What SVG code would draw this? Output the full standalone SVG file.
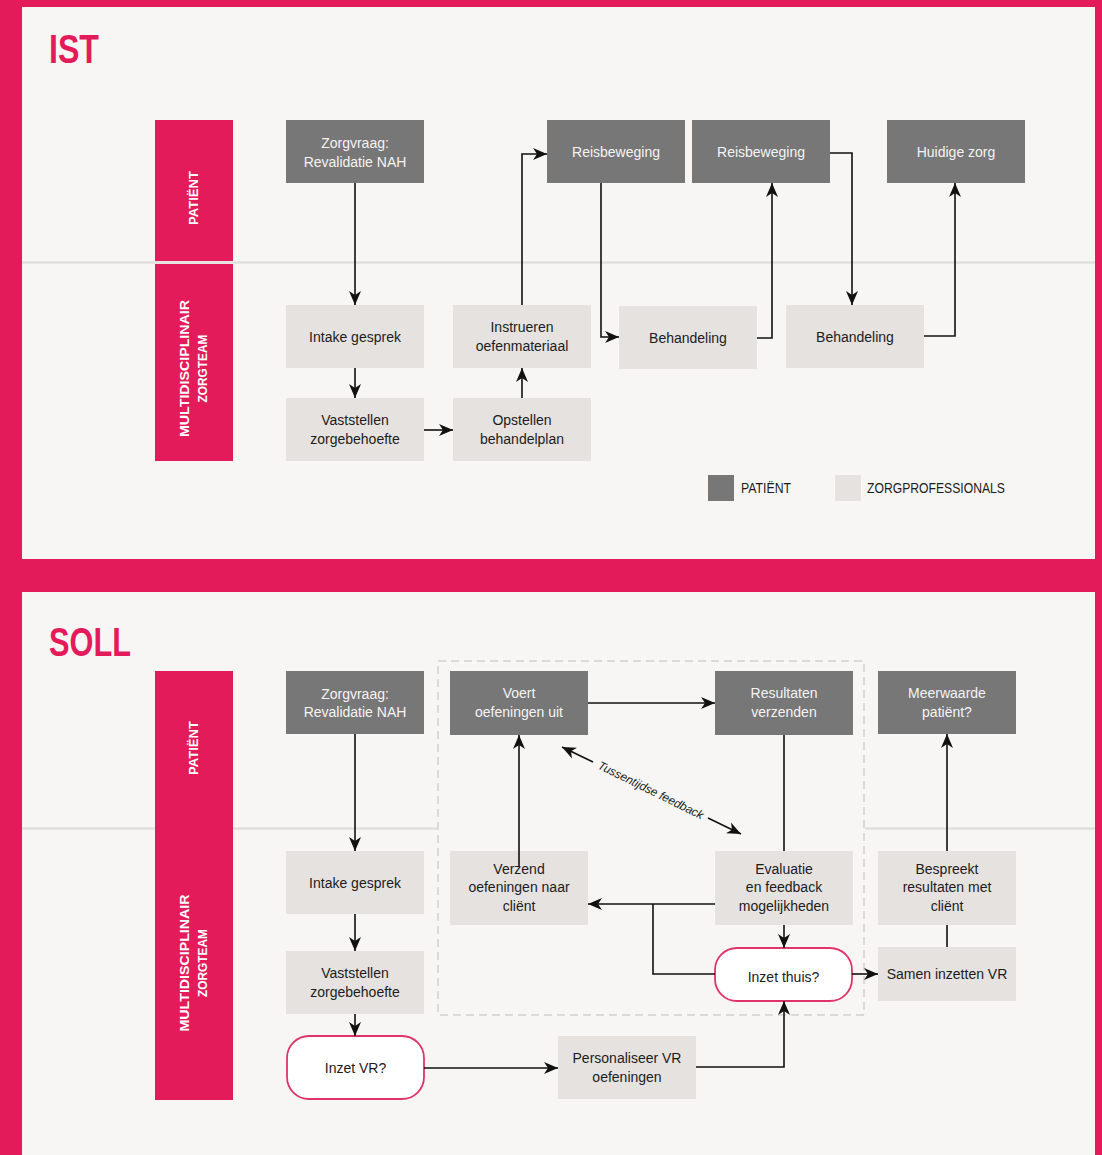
<svg xmlns="http://www.w3.org/2000/svg" width="1102" height="1155" viewBox="0 0 1102 1155">
<style>
.panel{fill:#f7f6f4}
.lane{fill:#e41b5a}
.sep{stroke:#e2e0dd;stroke-width:2.5;fill:none}
.dk{fill:#777777}
.lt{fill:#e5e2e0}
.dec{fill:#ffffff;stroke:#e0336b;stroke-width:1.8}
text{font-family:"Liberation Sans",Arial,sans-serif}
.tw{fill:#f4f4f4;font-size:14px;text-anchor:middle}
.tb{fill:#1c1c1c;font-size:14px;text-anchor:middle}
.lab{fill:#ffffff;font-size:13.5px;font-weight:bold;text-anchor:middle}
.ttl{fill:#e41b5a;font-size:41px;font-weight:bold}
.leg{fill:#1c1c1c;font-size:14px}
.c{stroke:#111;stroke-width:1.6;fill:none}
.ca{stroke:#111;stroke-width:1.6;fill:none;marker-end:url(#ah)}
</style>
<defs>
<marker id="ah" markerUnits="userSpaceOnUse" markerWidth="16" markerHeight="14" refX="14" refY="7" orient="auto-start-reverse">
<path d="M0,1 L14,7 L0,13 L4,7 Z" fill="#111"/>
</marker>
</defs>
<rect x="0" y="0" width="1102" height="1155" fill="#e41b5a"/>
<rect class="panel" x="22" y="7" width="1073" height="552"/>
<rect class="panel" x="22" y="592" width="1073" height="563"/>

<!-- IST panel -->
<g id="ist-title"><text class="ttl" x="49" y="63" textLength="50" lengthAdjust="spacingAndGlyphs">IST</text></g>
<line class="sep" x1="22" y1="262.5" x2="1095" y2="262.5"/>
<g id="ist-lane-patient"><rect class="lane" x="155" y="120" width="78" height="141"/>
<text class="lab" transform="translate(198,198) rotate(-90)" textLength="54" lengthAdjust="spacingAndGlyphs">PATIËNT</text></g>
<g id="ist-lane-team"><rect class="lane" x="155" y="264" width="78" height="197"/>
<text class="lab" transform="translate(189,368.5) rotate(-90)" textLength="137" lengthAdjust="spacingAndGlyphs">MULTIDISCIPLINAIR</text>
<text class="lab" transform="translate(207,368.5) rotate(-90)" textLength="68" lengthAdjust="spacingAndGlyphs">ZORGTEAM</text></g>

<g id="ist-zorgvraag"><rect class="dk" x="286" y="120" width="138" height="63"/><text class="tw" x="355" y="148">Zorgvraag:</text><text class="tw" x="355" y="167">Revalidatie NAH</text></g>
<g id="ist-intake"><rect class="lt" x="286" y="305" width="138" height="63"/><text class="tb" x="355" y="341.5">Intake gesprek</text></g>
<g id="ist-vaststellen"><rect class="lt" x="286" y="398" width="138" height="63"/><text class="tb" x="355" y="425">Vaststellen</text><text class="tb" x="355" y="444">zorgebehoefte</text></g>
<g id="ist-opstellen"><rect class="lt" x="453" y="398" width="138" height="63"/><text class="tb" x="522" y="425">Opstellen</text><text class="tb" x="522" y="444">behandelplan</text></g>
<g id="ist-instrueren"><rect class="lt" x="453" y="305" width="138" height="63"/><text class="tb" x="522" y="332">Instrueren</text><text class="tb" x="522" y="351">oefenmateriaal</text></g>
<g id="ist-reis1"><rect class="dk" x="547" y="120" width="138" height="63"/><text class="tw" x="616" y="157">Reisbeweging</text></g>
<g id="ist-behandeling1"><rect class="lt" x="619" y="306" width="138" height="63"/><text class="tb" x="688" y="343">Behandeling</text></g>
<g id="ist-reis2"><rect class="dk" x="692" y="120" width="138" height="63"/><text class="tw" x="761" y="157">Reisbeweging</text></g>
<g id="ist-behandeling2"><rect class="lt" x="786" y="305" width="138" height="63"/><text class="tb" x="855" y="342">Behandeling</text></g>
<g id="ist-huidige"><rect class="dk" x="887" y="120" width="138" height="63"/><text class="tw" x="956" y="157">Huidige zorg</text></g>

<g id="ist-legend">
<rect class="dk" x="708" y="475" width="26" height="26"/><text class="leg" x="741" y="493" textLength="50" lengthAdjust="spacingAndGlyphs">PATIËNT</text>
<rect class="lt" x="835" y="475" width="26" height="26"/><text class="leg" x="867" y="493" textLength="138" lengthAdjust="spacingAndGlyphs">ZORGPROFESSIONALS</text>
</g>

<g id="ist-connectors">
<path class="ca" d="M355,183 V305"/>
<path class="ca" d="M355,368 V398"/>
<path class="ca" d="M424,430 H453"/>
<path class="ca" d="M522,398 V368"/>
<path class="ca" d="M522,305 V154 H547"/>
<path class="ca" d="M601,183 V337 H619"/>
<path class="ca" d="M757,338 H772 V183"/>
<path class="ca" d="M830,153 H852 V305"/>
<path class="ca" d="M924,336 H955 V183"/>
</g>

<!-- SOLL panel -->
<g id="soll-title"><text class="ttl" x="49" y="656" textLength="82" lengthAdjust="spacingAndGlyphs">SOLL</text></g>
<line class="sep" x1="22" y1="828.5" x2="437" y2="828.5"/>
<line class="sep" x1="865" y1="828.5" x2="1095" y2="828.5"/>
<g id="soll-lanes"><rect class="lane" x="155" y="671" width="78" height="429"/>
<text class="lab" transform="translate(198,748) rotate(-90)" textLength="54" lengthAdjust="spacingAndGlyphs">PATIËNT</text>
<text class="lab" transform="translate(189,963) rotate(-90)" textLength="137" lengthAdjust="spacingAndGlyphs">MULTIDISCIPLINAIR</text>
<text class="lab" transform="translate(207,963) rotate(-90)" textLength="68" lengthAdjust="spacingAndGlyphs">ZORGTEAM</text></g>

<rect id="soll-homebox" x="438" y="661" width="426" height="354" fill="none" stroke="#dcdad7" stroke-width="2" stroke-dasharray="8,5"/>

<g id="soll-zorgvraag"><rect class="dk" x="286" y="671" width="138" height="63"/><text class="tw" x="355" y="699">Zorgvraag:</text><text class="tw" x="355" y="717">Revalidatie NAH</text></g>
<g id="soll-intake"><rect class="lt" x="286" y="851" width="138" height="63"/><text class="tb" x="355" y="888">Intake gesprek</text></g>
<g id="soll-vaststellen"><rect class="lt" x="286" y="951" width="138" height="63"/><text class="tb" x="355" y="978">Vaststellen</text><text class="tb" x="355" y="997">zorgebehoefte</text></g>
<g id="soll-inzetvr"><rect class="dec" x="287" y="1036" width="137" height="63" rx="22"/><text class="tb" x="355.5" y="1073">Inzet VR?</text></g>
<g id="soll-personaliseer"><rect class="lt" x="558" y="1036" width="138" height="63"/><text class="tb" x="627" y="1063">Personaliseer VR</text><text class="tb" x="627" y="1082">oefeningen</text></g>
<g id="soll-voert"><rect class="dk" x="450" y="671" width="138" height="64"/><text class="tw" x="519" y="698">Voert</text><text class="tw" x="519" y="717">oefeningen uit</text></g>
<g id="soll-resultaten"><rect class="dk" x="715" y="671" width="138" height="64"/><text class="tw" x="784" y="698">Resultaten</text><text class="tw" x="784" y="717">verzenden</text></g>
<g id="soll-verzend"><rect class="lt" x="450" y="851" width="138" height="74"/><text class="tb" x="519" y="874">Verzend</text><text class="tb" x="519" y="892">oefeningen naar</text><text class="tb" x="519" y="911">cliënt</text></g>
<g id="soll-evaluatie"><rect class="lt" x="715" y="851" width="138" height="74"/><text class="tb" x="784" y="874">Evaluatie</text><text class="tb" x="784" y="892">en feedback</text><text class="tb" x="784" y="911">mogelijkheden</text></g>
<g id="soll-inzetthuis"><rect class="dec" x="715" y="948" width="137" height="53" rx="22"/><text class="tb" x="783.5" y="982">Inzet thuis?</text></g>
<g id="soll-meerwaarde"><rect class="dk" x="878" y="671" width="138" height="63"/><text class="tw" x="947" y="698">Meerwaarde</text><text class="tw" x="947" y="717">patiënt?</text></g>
<g id="soll-bespreekt"><rect class="lt" x="878" y="851" width="138" height="74"/><text class="tb" x="947" y="874">Bespreekt</text><text class="tb" x="947" y="892">resultaten met</text><text class="tb" x="947" y="911">cliënt</text></g>
<g id="soll-samen"><rect class="lt" x="878" y="947" width="138" height="54"/><text class="tb" x="947" y="979">Samen inzetten VR</text></g>

<g id="soll-connectors">
<path class="ca" d="M355,734 V851"/>
<path class="ca" d="M355,914 V951"/>
<path class="ca" d="M355,1014 V1036"/>
<path class="ca" d="M424,1068 H558"/>
<path class="ca" d="M696,1067 H784 V1001"/>
<path class="ca" d="M588,703 H715"/>
<path class="c" d="M784,735 V851"/>
<path class="ca" d="M784,925 V948"/>
<path class="ca" d="M715,904 H588"/>
<path class="c" d="M653,904 V974 H715"/>
<path class="ca" d="M519,866 V735"/>
<path class="ca" d="M852,974 H878"/>
<path class="c" d="M947,947 V925"/>
<path class="ca" d="M947,851 V734" stroke="#333"/>
<path class="ca" d="M593,762 L562,747"/>
<path class="ca" d="M708,818 L741,834"/>
<text transform="translate(650.5,791) rotate(26.3)" font-size="12" font-style="italic" fill="#1c1c1c" text-anchor="middle" dominant-baseline="middle" textLength="116" lengthAdjust="spacingAndGlyphs">Tussentijdse feedback</text>
</g>
</svg>
